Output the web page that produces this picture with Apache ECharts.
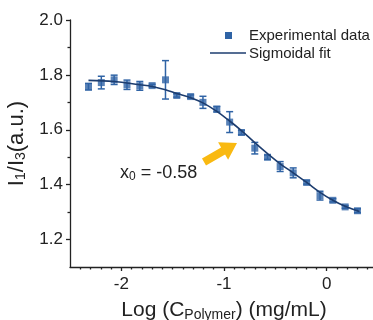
<!DOCTYPE html>
<html>
<head>
<meta charset="utf-8">
<script src="https://cdn.jsdelivr.net/npm/echarts@6/dist/echarts.min.js"></script>
<style>
  html, body { margin: 0; padding: 0; background: #ffffff; }
  #chart { width: 373px; height: 320px; }
</style>
</head>
<body>
<div id="chart"></div>
<script>
// Pyrene I1/I3 ratio versus polymer concentration (log scale)
const logConc  = [-2.32, -2.195, -2.07, -1.945, -1.82, -1.70, -1.57, -1.46, -1.325, -1.205, -1.07, -0.945,
                  -0.83, -0.70, -0.576, -0.453, -0.326, -0.195, -0.065, 0.06, 0.18, 0.30];
const ratio    = [1.757, 1.772, 1.782, 1.764, 1.760, 1.761, 1.782, 1.725, 1.721, 1.700, 1.675, 1.628,
                  1.590, 1.533, 1.500, 1.466, 1.443, 1.408, 1.360, 1.343, 1.319, 1.305];
const ratioErr = [0.012, 0.023, 0.017, 0.017, 0.016, 0.005, 0.070, 0.006, 0.006, 0.022, 0.010, 0.038,
                  0.008, 0.021, 0.008, 0.018, 0.018, 0.006, 0.016, 0.006, 0.005, 0.007];

// Sigmoidal (Boltzmann) fit curve, sampled along the concentration range
const fitX = [-2.32, -2.07, -1.82, -1.70, -1.57, -1.46, -1.325, -1.205, -1.07, -0.945, -0.83, -0.70,
              -0.576, -0.453, -0.326, -0.195, -0.065, 0.06, 0.18, 0.32];
const fitY = [1.780, 1.776, 1.764, 1.758, 1.746, 1.732, 1.717, 1.698, 1.667, 1.632, 1.597, 1.553,
              1.513, 1.476, 1.443, 1.408, 1.372, 1.343, 1.321, 1.302];

const xTickValues = [-2, -1, 0];
const yTickValues = [1.2, 1.4, 1.6, 1.8, 2.0];
const yMinorValues = [1.3, 1.5, 1.7, 1.9];
const x0Value = '-0.58';
const legendNames = ['Experimental data', 'Sigmoidal fit'];

// minor x ticks every 0.1 between the labelled integers
const xMinorValues = [];
for (let k = -24; k <= 4; k++) {
  if (k % 10 !== 0) xMinorValues.push(k / 10);
}

const pointColor = '#2f63a5';
const fitColor = '#1d3d6f';
const inkColor = '#222222';
const fontFamily = '"Liberation Sans", Arial, sans-serif';

const chart = echarts.init(document.getElementById('chart'), null, { renderer: 'canvas' });

const axisLineStyle = { color: inkColor, width: 1.3 };

chart.setOption({
  animation: false,
  backgroundColor: '#ffffff',
  textStyle: { fontFamily: fontFamily },
  grid: { left: 70, top: 20, right: -5, bottom: 53, containLabel: false, outerBoundsMode: 'none' },
  xAxis: [
    {
      type: 'value', min: -2.5, max: 0.5,
      axisLine: { show: true, onZero: false, lineStyle: axisLineStyle },
      axisTick: { show: true, customValues: xTickValues, length: 4, lineStyle: axisLineStyle },
      axisLabel: {
        customValues: xTickValues, fontSize: 17, color: inkColor, margin: 9, fontFamily: fontFamily,
        formatter: v => String(v)
      },
      splitLine: { show: false },
      name: '{m|Log (C}{s|Polymer}{m|) (mg/mL)}',
      nameLocation: 'middle',
      nameGap: 32,
      nameTextStyle: {
        rich: {
          m: { fontSize: 21, color: inkColor, fontFamily: fontFamily },
          s: { fontSize: 14, color: inkColor, fontFamily: fontFamily, padding: [9, 0, 0, 0] }
        }
      }
    },
    {
      type: 'value', min: -2.5, max: 0.5, position: 'bottom',
      axisLine: { show: false, onZero: false },
      axisTick: { show: true, customValues: xMinorValues, length: 2.5, lineStyle: axisLineStyle },
      axisLabel: { show: false },
      splitLine: { show: false }
    }
  ],
  yAxis: [
    {
      type: 'value', min: 1.1, max: 2.0,
      axisLine: { show: true, onZero: false, lineStyle: axisLineStyle },
      axisTick: { show: true, customValues: yTickValues, length: 4, lineStyle: axisLineStyle },
      axisLabel: {
        customValues: yTickValues, fontSize: 17, color: inkColor, margin: 7, fontFamily: fontFamily,
        formatter: v => v.toFixed(1)
      },
      splitLine: { show: false },
      name: '{m|I}{s|1}{m|/I}{s|3}{m|(a.u.)}',
      nameLocation: 'middle',
      nameRotate: 90,
      nameGap: 38,
      nameTextStyle: {
        rich: {
          m: { fontSize: 22, color: inkColor, fontFamily: fontFamily },
          s: { fontSize: 14, color: inkColor, fontFamily: fontFamily, padding: [10, 0, 0, 0] }
        }
      }
    },
    {
      type: 'value', min: 1.1, max: 2.0, position: 'left',
      axisLine: { show: false, onZero: false },
      axisTick: { show: true, customValues: yMinorValues, length: 2.5, lineStyle: axisLineStyle },
      axisLabel: { show: false },
      splitLine: { show: false }
    }
  ],
  series: [
    {
      name: 'error',
      type: 'custom',
      xAxisIndex: 0, yAxisIndex: 0,
      z: 2,
      data: logConc.map((x, i) => [x, ratio[i], ratioErr[i]]),
      renderItem: function (params, api) {
        const x = api.value(0), y = api.value(1), e = api.value(2);
        const top = api.coord([x, y + e]);
        const bot = api.coord([x, y - e]);
        const hw = 3.5;
        const st = { stroke: pointColor, lineWidth: 1.5 };
        return {
          type: 'group',
          children: [
            { type: 'line', shape: { x1: top[0], y1: top[1], x2: bot[0], y2: bot[1] }, style: st },
            { type: 'line', shape: { x1: top[0] - hw, y1: top[1], x2: top[0] + hw, y2: top[1] }, style: st },
            { type: 'line', shape: { x1: bot[0] - hw, y1: bot[1], x2: bot[0] + hw, y2: bot[1] }, style: st }
          ]
        };
      }
    },
    {
      name: legendNames[0],
      type: 'scatter',
      xAxisIndex: 0, yAxisIndex: 0,
      z: 3,
      symbol: 'rect',
      symbolSize: 7,
      itemStyle: { color: pointColor },
      data: logConc.map((x, i) => [x, ratio[i]])
    },
    {
      name: legendNames[1],
      type: 'line',
      xAxisIndex: 0, yAxisIndex: 0,
      z: 4,
      smooth: 0.4,
      symbol: 'none',
      lineStyle: { color: fitColor, width: 1.6 },
      data: fitX.map((x, i) => [x, fitY[i]])
    }
  ],
  graphic: [
    // legend
    { type: 'rect', left: 225, top: 32, shape: { width: 7, height: 7 }, style: { fill: pointColor }, z: 10 },
    { type: 'line', shape: { x1: 210, y1: 53, x2: 246, y2: 53 }, style: { stroke: fitColor, lineWidth: 1.6 }, z: 10 },
    { type: 'text', left: 249, top: 28, style: { text: legendNames[0], fontSize: 15, fill: inkColor, fontFamily: fontFamily }, z: 10 },
    { type: 'text', left: 249, top: 46, style: { text: legendNames[1], fontSize: 15, fill: inkColor, fontFamily: fontFamily }, z: 10 },
    // half-point annotation
    {
      type: 'text', left: 120, top: 164, z: 10,
      style: {
        text: '{m|x}{s|0}{m| = ' + x0Value + '}',
        rich: {
          m: { fontSize: 18, fill: inkColor, fontFamily: fontFamily },
          s: { fontSize: 12, fill: inkColor, fontFamily: fontFamily, padding: [7, 0, 0, 0] }
        }
      }
    },
    {
      type: 'polygon', z: 10,
      shape: {
        points: [[206.0, 165.5], [225.1, 154.5], [228.1, 159.7], [237, 143], [218.1, 142.3], [221.1, 147.5], [202.0, 158.5]]
      },
      style: { fill: '#f9b911' }
    }
  ]
});
</script>
</body>
</html>
